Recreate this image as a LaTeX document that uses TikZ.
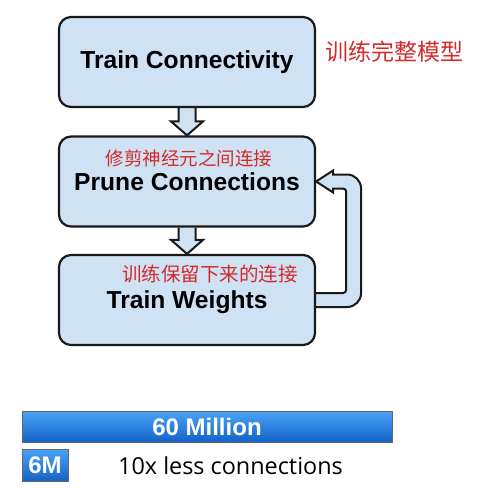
\documentclass[tikz,border=0pt]{standalone}
\usepackage{fontspec}
\usepackage{tikz}
\usetikzlibrary{calc, backgrounds}
\newfontfamily\boxfont{Liberation Sans}
\newfontfamily\notefont{Open Sans}
\newfontfamily\cjk{Noto Sans CJK SC}
\definecolor{boxblue}{HTML}{CFE2F3}
\definecolor{penred}{HTML}{D42A2A}
\definecolor{bartop}{HTML}{4AA3F7}
\definecolor{barbot}{HTML}{1463C8}
\tikzset{
  procbox/.style={
    draw=black!90, line width=2.2pt, rounded corners=12pt,
    fill=boxblue, minimum width=256pt, minimum height=90pt,
    font=\boxfont\bfseries\fontsize{24.6}{28}\selectfont
  },
  fatarrow/.style={draw=black!90, line width=2pt, fill=boxblue, line join=miter},
  handnote/.style={text=penred, inner sep=0pt},
  paramsbar/.style={
    draw=black!60, line width=0.8pt, inner sep=0pt,
    top color=bartop, bottom color=barbot, text=white,
    font=\boxfont\bfseries\fontsize{24}{28}\selectfont
  },
}

\begin{document}
\begin{tikzpicture}[x=1pt, y=-1pt]
  \useasboundingbox (0,0) rectangle (486,488);

  % the three stages
  \node[procbox] (train)   at (187,62)    {Train Connectivity};
  \node[procbox] (prune)   at (187,181.5) {Prune Connections};
  \node[procbox, text depth=0pt] (weights) at (187,300) {Train Weights};

  % handwritten notes
  \node[handnote, font=\cjk\fontsize{23}{26}\selectfont]
    (noteTrain) at (394,52) {训练完整模型};
  \node[handnote, font=\cjk\fontsize{18.5}{22}\selectfont]
    (notePrune) at (189,158) {修剪神经元之间连接};
  \node[handnote, font=\cjk\fontsize{19.5}{22}\selectfont]
    (noteWeights) at (210,274) {训练保留下来的连接};

  \begin{scope}[on background layer]
    \foreach \a/\b in {train/prune, prune/weights}
      \filldraw[fatarrow] ($(\a.south)+(-8.5,0)$) -- ($(\b.north)+(-8.5,-14)$)
        -- ($(\b.north)+(-16,-14)$) -- (\b.north) -- ($(\b.north)+(16,-14)$)
        -- ($(\b.north)+(8.5,-14)$) -- ($(\a.south)+(8.5,0)$);

    % loop back to pruning
    \filldraw[fatarrow] ($(weights.east)+(0,7)$)
      [rounded corners=14pt] -- ($(weights.east)+(45,7)$)
      -- ($(prune.east)+(45,-7)$) [sharp corners]
      -- ($(prune.east)+(17,-7)$) -- ($(prune.east)+(17,-11)$)
      -- (prune.east)
      -- ($(prune.east)+(17,11)$) -- ($(prune.east)+(17,7)$)
      [rounded corners=3pt] -- ($(prune.east)+(30,7)$)
      -- ($(weights.east)+(30,-7)$) [sharp corners]
      -- ($(weights.east)+(0,-7)$);
  \end{scope}

  % number of connections
  \node[paramsbar, minimum width=370pt, minimum height=31pt]
    (fullNet) at (207,426.5) {60 Million};
  \node[paramsbar, minimum width=46pt, minimum height=32pt]
    (prunedNet) at (45,465) {6M};
  \node[inner sep=0pt, font=\notefont\fontsize{23.4}{26}\selectfont]
    (ratio) at (230.5,466) {10x less connections};
\end{tikzpicture}
\end{document}
